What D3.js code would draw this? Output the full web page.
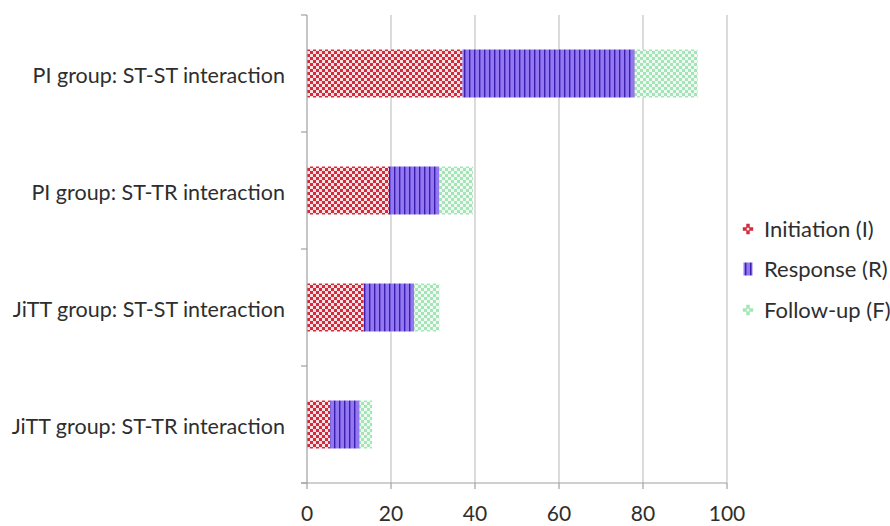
<!DOCTYPE html>
<html>
<head>
<meta charset="utf-8">
<script src="https://cdn.jsdelivr.net/npm/d3@7"></script>
<style>
  body { margin: 0; background: #fff; }
  svg text { font-family: Lato, "Open Sans", sans-serif; fill: #2e2e2e; }
</style>
</head>
<body>
<svg id="chart" width="890" height="526"></svg>
<script>
// data
const categories = [
    'PI group: ST-ST interaction',
    'PI group: ST-TR interaction',
    'JiTT group: ST-ST interaction',
    'JiTT group: ST-TR interaction'
];
const seriesNames = ['Initiation (I)', 'Response (R)', 'Follow-up (F)'];
const initiation = [37, 19.5, 13.5, 5.5];
const response = [41, 12, 12, 7];
const followUp = [15, 8, 6, 3];
const xTicks = [0, 20, 40, 60, 80, 100];

const svg = d3.select('#chart');
const margin = { top: 15, left: 307, right: 163, bottom: 43 };
const width = 890 - margin.left - margin.right;
const height = 526 - margin.top - margin.bottom;

// patterns for the three series
const defs = svg.append('defs');

function checkPattern(id, base, light, size) {
    const p = defs.append('pattern')
        .attr('id', id)
        .attr('patternUnits', 'userSpaceOnUse')
        .attr('width', size * 2).attr('height', size * 2);
    p.append('rect').attr('width', size * 2).attr('height', size * 2).attr('fill', base);
    p.append('rect').attr('width', size).attr('height', size).attr('fill', light);
    p.append('rect').attr('x', size).attr('y', size).attr('width', size).attr('height', size).attr('fill', light);
}
checkPattern('patI', '#d42a3c', '#fbe3e5', 3);
checkPattern('patF', '#a3e6b5', '#effbf2', 3);

const pR = defs.append('pattern')
    .attr('id', 'patR')
    .attr('patternUnits', 'userSpaceOnUse')
    .attr('width', 5).attr('height', 10);
pR.append('rect').attr('width', 5).attr('height', 10).attr('fill', '#9277f0');
pR.append('rect').attr('x', 2).attr('width', 1.4).attr('height', 10).attr('fill', '#3a1fae');

const fills = ['url(#patI)', 'url(#patR)', 'url(#patF)'];

const g = svg.append('g').attr('transform', `translate(${margin.left},${margin.top})`);

const x = d3.scaleLinear().domain([0, 100]).range([0, width]);
const y = d3.scaleBand().domain(categories).range([0, height]).paddingInner(0.59).paddingOuter(0.295);

// gridlines
g.selectAll('line.grid')
    .data(xTicks.slice(1))
    .join('line')
    .attr('class', 'grid')
    .attr('x1', d => x(d)).attr('x2', d => x(d))
    .attr('y1', 0).attr('y2', height)
    .attr('stroke', '#c4c4c4').attr('stroke-width', 1.2);

// stacked bars
const rows = categories.map((c, i) => ({ cat: c, I: initiation[i], R: response[i], F: followUp[i] }));
const stacked = d3.stack().keys(['I', 'R', 'F'])(rows);

g.selectAll('g.series')
    .data(stacked)
    .join('g')
    .attr('class', 'series')
    .attr('fill', (d, i) => fills[i])
    .selectAll('rect')
    .data(d => d)
    .join('rect')
    .attr('x', d => x(d[0]))
    .attr('width', d => x(d[1]) - x(d[0]))
    .attr('y', d => y(d.data.cat))
    .attr('height', y.bandwidth());

// left axis: line + ticks at band edges
const axisColor = '#a0a0a0';
g.append('line')
    .attr('x1', 0).attr('x2', 0).attr('y1', 0).attr('y2', height)
    .attr('stroke', axisColor).attr('stroke-width', 1.2);
const bandEdges = categories.map(c => y(c) - y.step() * y.paddingInner() / 2)
    .map((v, i) => i === 0 ? 0 : v).concat([height]);
g.selectAll('line.ytick')
    .data(bandEdges)
    .join('line')
    .attr('class', 'ytick')
    .attr('x1', -6).attr('x2', 0)
    .attr('y1', d => d).attr('y2', d => d)
    .attr('stroke', axisColor).attr('stroke-width', 1.2);

g.selectAll('text.ylabel')
    .data(categories)
    .join('text')
    .attr('class', 'ylabel')
    .attr('x', -22)
    .attr('y', d => y(d) + y.bandwidth() / 2 + 2)
    .attr('dy', '0.35em')
    .attr('text-anchor', 'end')
    .style('font-size', '21.5px')
    .text(d => d);

// bottom axis
g.append('line')
    .attr('x1', -6).attr('x2', width).attr('y1', height).attr('y2', height)
    .attr('stroke', axisColor).attr('stroke-width', 1.2);
g.selectAll('line.xtick')
    .data(xTicks)
    .join('line')
    .attr('class', 'xtick')
    .attr('x1', d => x(d)).attr('x2', d => x(d))
    .attr('y1', height).attr('y2', height + 6)
    .attr('stroke', axisColor).attr('stroke-width', 1.2);
g.selectAll('text.xlabel')
    .data(xTicks)
    .join('text')
    .attr('class', 'xlabel')
    .attr('x', d => x(d))
    .attr('y', height + 31)
    .attr('dy', '0.35em')
    .attr('text-anchor', 'middle')
    .style('font-size', '21px')
    .text(d => d);

// legend
const legend = svg.append('g').attr('transform', 'translate(748,229)');
const item = legend.selectAll('g.item')
    .data(seriesNames)
    .join('g')
    .attr('class', 'item')
    .attr('transform', (d, i) => `translate(0,${i * 40.5})`);

// small markers
item.filter((d, i) => i === 0).append('path')
    .attr('d', d3.symbol().type(d3.symbolCross).size(60))
    .attr('fill', '#d42a3c');
item.filter((d, i) => i === 0).append('circle')
    .attr('r', 1.5).attr('fill', '#fbe3e5');
item.filter((d, i) => i === 1).append('rect')
    .attr('x', -4.5).attr('y', -7).attr('width', 9).attr('height', 13)
    .attr('fill', 'url(#patR)');
item.filter((d, i) => i === 2).append('path')
    .attr('d', d3.symbol().type(d3.symbolCross).size(60))
    .attr('fill', '#a3e6b5');
item.filter((d, i) => i === 2).append('circle')
    .attr('r', 1.5).attr('fill', '#effbf2');

item.append('text')
    .attr('x', 16)
    .attr('dy', '0.35em')
    .style('font-size', '22px')
    .text(d => d);
</script>
</body>
</html>
